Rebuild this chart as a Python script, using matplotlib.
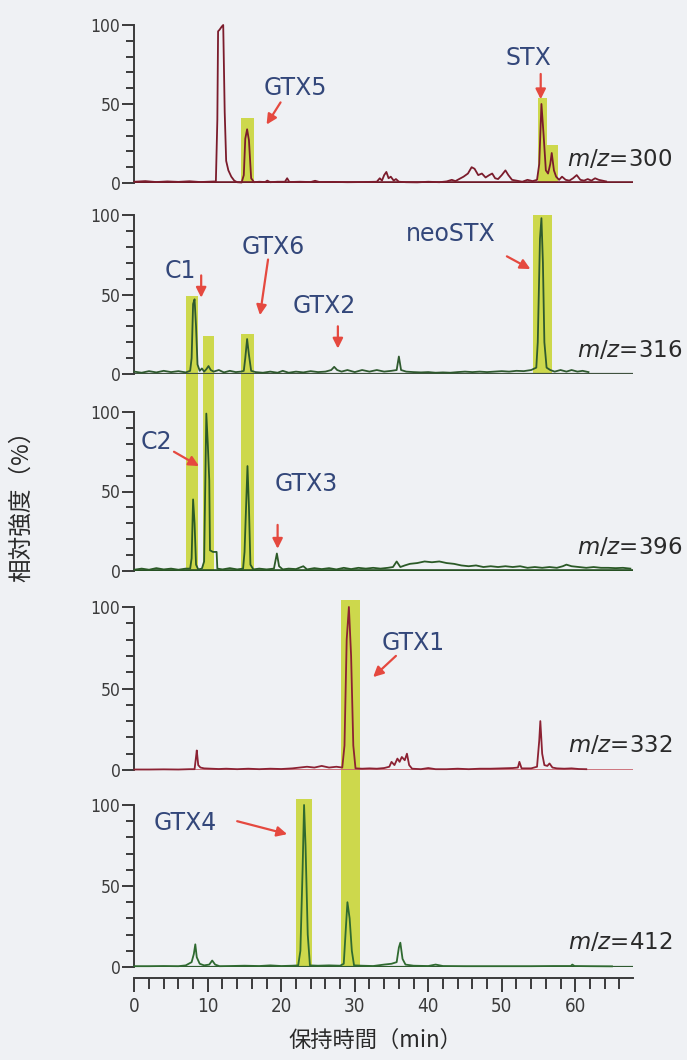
import numpy as np
import matplotlib
matplotlib.use("Agg")
import matplotlib.pyplot as plt
from matplotlib.patches import Rectangle
from matplotlib.ticker import MultipleLocator

# retention time (min), relative intensity (%)
mz300 = [(0, 0.8), (1.5, 1.2), (3, 0.6), (4.5, 1.0), (6, 0.7), (7.5, 1.1), (9, 0.6),
         (10.5, 0.9), (11.1, 1.0), (11.3, 40), (11.4, 96), (11.6, 97), (11.9, 99),
         (12.1, 100), (12.3, 45), (12.5, 14), (12.8, 8), (13.2, 4), (13.6, 1.5),
         (14.0, 0.5), (14.6, 0.3), (14.9, 5), (15.1, 28), (15.35, 34), (15.6, 27),
         (15.9, 3), (16.3, 0.5), (17.0, 0.8), (17.8, 0.6), (18.1, 1.5), (18.5, 0.5),
         (19.5, 0.8), (20.5, 0.8), (20.8, 3), (21.1, 0.6), (22.5, 0.8), (24.0, 0.6),
         (24.6, 1.4), (25.2, 0.6), (27, 0.7), (29, 0.5), (31, 0.6), (33, 0.8),
         (33.4, 3), (33.7, 1.5), (34.0, 5), (34.3, 7), (34.6, 3), (34.9, 4),
         (35.3, 1.5), (35.6, 2.5), (36.0, 0.8), (37, 0.5), (38.5, 0.4), (40, 0.8),
         (41.5, 0.5), (42.5, 1.0), (43.2, 2), (43.7, 1.2), (44.2, 2.5), (44.8, 4),
         (45.4, 6), (45.9, 10), (46.3, 9), (46.8, 5), (47.3, 6), (47.8, 3.5),
         (48.3, 5), (48.7, 6), (49.1, 3), (49.5, 2.5), (50.0, 5), (50.5, 8),
         (50.9, 5), (51.4, 2), (52.0, 1.5), (52.8, 0.8), (53.5, 2), (54.2, 1.2),
         (54.8, 2), (55.1, 12), (55.4, 50), (55.7, 30), (56.0, 8), (56.3, 6),
         (56.6, 12), (56.8, 19), (57.1, 8), (57.4, 4), (57.8, 2), (58.2, 4),
         (58.7, 2), (59.2, 1.5), (59.7, 3), (60.2, 5), (60.7, 2), (61.2, 1.5),
         (61.7, 2.5), (62.2, 1.5), (62.7, 3), (63.2, 2), (63.7, 1.5), (64.2, 1.0)]

mz316 = [(0, 1.5), (1, 0.8), (2, 1.8), (3, 1.0), (4, 2.0), (5, 1.2), (6, 1.8), (7, 1.0),
         (7.6, 2.0), (7.8, 10), (8.0, 44), (8.2, 47), (8.4, 30), (8.6, 6), (8.9, 2.0),
         (9.2, 3.5), (9.5, 1.5), (9.8, 3), (10.1, 5), (10.4, 2.5), (10.8, 1.5),
         (11.5, 2.5), (12.2, 1.0), (13, 2.0), (13.8, 1.2), (14.5, 1.5), (14.9, 2),
         (15.1, 10), (15.35, 22), (15.6, 12), (15.9, 2), (16.5, 1.2), (17.5, 0.8),
         (18.5, 1.5), (19.5, 0.8), (20.2, 2.0), (21, 0.8), (22, 1.5), (23, 1.0),
         (24, 1.8), (25, 1.2), (26, 1.5), (26.8, 2.5), (27.2, 4.5), (27.6, 2.5),
         (28.2, 1.5), (29, 2.5), (30, 1.2), (31, 2.5), (32, 1.5), (33, 2.5),
         (34, 1.5), (35, 2.0), (35.7, 2.5), (36.0, 11), (36.3, 2.5), (37, 1.5),
         (38, 1.2), (39, 1.0), (40, 1.2), (41, 0.8), (42, 1.0), (43, 0.8), (44, 1.2),
         (45, 1.5), (46, 1.2), (47, 1.5), (48, 1.2), (49, 1.5), (50, 1.8), (51, 1.5),
         (52, 2), (53, 1.8), (54, 2.5), (54.7, 4), (54.9, 20), (55.2, 85), (55.4, 98),
         (55.6, 70), (55.8, 20), (56.1, 4), (56.6, 2.5), (57.2, 1.5), (58, 2.5),
         (58.8, 1.5), (59.5, 2.5), (60.3, 1.5), (61, 2.0), (61.8, 1.2)]

mz396 = [(0, 0.8), (1, 1.5), (2, 0.8), (3, 1.8), (4, 1.0), (5, 1.5), (6, 0.8), (7, 1.5),
         (7.6, 1.5), (7.8, 8), (8.0, 45), (8.2, 30), (8.4, 4), (8.7, 1.0), (9.2, 1.5),
         (9.5, 6), (9.8, 99), (10.0, 80), (10.2, 57), (10.3, 13), (10.7, 12),
         (11.2, 12), (11.3, 1.5), (12, 1.0), (13, 1.8), (14, 1.0), (14.8, 1.5),
         (15.0, 12), (15.4, 66), (15.6, 40), (15.8, 4), (16.2, 1.0), (17, 1.5),
         (18, 1.0), (19.0, 1.5), (19.4, 11), (19.7, 3), (20.2, 1.0), (21, 1.5),
         (22, 1.2), (23, 3), (23.5, 1.0), (24.5, 1.8), (25.5, 1.2), (26.5, 1.8),
         (27.5, 1.0), (28.5, 2.0), (29.5, 1.2), (30.5, 2.0), (31.5, 1.5), (32.5, 2.0),
         (33.5, 1.5), (34.5, 2.0), (35.2, 2.5), (35.7, 6), (36.2, 2.5), (36.8, 3.5),
         (37.5, 4.5), (38.5, 5), (39.5, 6), (40.5, 5.5), (41.5, 6), (42.5, 5),
         (43.5, 4.5), (44.5, 3.5), (45.5, 3), (46.5, 3.5), (47.5, 2.5), (48.5, 3),
         (49.5, 2.5), (50.5, 3), (51.5, 2.5), (52.5, 3), (53.5, 2), (54.5, 2.5),
         (55.5, 2), (56.5, 2.5), (57.5, 2), (58.3, 3), (58.8, 4), (59.5, 3),
         (60.5, 2.5), (61.5, 2.0), (62.5, 2.5), (63.5, 2.0), (64.5, 2.0), (65.5, 1.8),
         (66.5, 2.0), (67.5, 1.5)]

mz332 = [(0, 0.3), (2, 0.3), (4, 0.4), (6, 0.3), (7.5, 0.5), (8.2, 0.5), (8.4, 8),
         (8.5, 12), (8.7, 3), (9.0, 1.5), (9.5, 1.0), (10.5, 0.8), (11.5, 0.6),
         (12.5, 0.8), (14, 0.5), (15.5, 0.8), (17, 0.5), (18.5, 0.8), (20, 0.6),
         (21.5, 1.0), (22.5, 1.5), (23.5, 2.0), (24.5, 1.5), (25.5, 2.5), (26.5, 1.5),
         (27.5, 2.0), (28.3, 1.5), (28.6, 15), (28.9, 80), (29.2, 100), (29.5, 70),
         (29.8, 15), (30.1, 1.0), (31, 0.8), (32, 1.0), (33, 0.8), (34, 1.2),
         (34.7, 2), (35.0, 5), (35.4, 3), (35.8, 7), (36.1, 5), (36.4, 8), (36.8, 6),
         (37.1, 10), (37.4, 3), (37.8, 0.8), (39, 0.5), (40, 1.2), (41, 0.5),
         (42.5, 0.5), (44, 0.8), (45.5, 0.5), (47, 0.8), (48.5, 0.8), (50, 1.0),
         (51.5, 1.2), (52.2, 1.5), (52.4, 5), (52.7, 1.0), (54, 1.0), (54.8, 2),
         (55.1, 18), (55.25, 30), (55.5, 10), (55.8, 3), (56.2, 2.5), (56.5, 4),
         (56.9, 1.5), (57.5, 1.0), (58.5, 0.8), (59.5, 1.0), (60.5, 0.6), (61.5, 0.5)]

mz412 = [(0, 0.5), (2, 0.5), (4, 0.6), (6, 0.5), (7.0, 1.0), (7.4, 2), (7.8, 3),
         (8.1, 8), (8.3, 14), (8.5, 6), (8.9, 2), (9.5, 1.0), (10.2, 1.5), (10.6, 4),
         (11.0, 1.5), (11.6, 0.5), (13, 0.6), (15, 0.8), (17, 0.6), (18.5, 1.0),
         (20, 0.6), (21.5, 0.8), (22.3, 1.0), (22.6, 10), (22.9, 60), (23.1, 100),
         (23.3, 75), (23.6, 20), (23.9, 1.0), (25, 0.8), (26.5, 1.0), (28, 0.8),
         (28.5, 2), (28.8, 25), (29.0, 40), (29.3, 30), (29.6, 10), (29.9, 1.0),
         (31, 0.8), (32.5, 0.6), (34, 1.5), (35, 2), (35.7, 3), (36.0, 12),
         (36.2, 15), (36.5, 5), (36.9, 1.5), (38, 0.8), (40, 0.6), (41, 1.5),
         (42, 0.6), (45, 0.5), (48, 0.5), (51, 0.5), (54, 0.5), (57, 0.6),
         (59.4, 0.6), (59.6, 1.5), (59.9, 0.6), (62, 0.5), (65, 0.4)]

traces = [mz300, mz316, mz396, mz332, mz412]
mz_labels = ["300", "316", "396", "332", "412"]

# highlighted windows: start, end (min), lowest panel, highest panel, top (%)
windows = [(14.5, 16.3, 0, 0, 41), (55.0, 56.1, 0, 0, 54), (56.1, 57.6, 0, 0, 24),
           (7.1, 8.7, 2, 1, 49), (9.4, 10.9, 2, 1, 24), (14.5, 16.3, 2, 1, 25),
           (54.2, 56.8, 1, 1, 100), (28.1, 30.7, 4, 3, 104), (22.0, 24.2, 4, 4, 104)]

# compound name, panel, text position, arrow tail, arrow head
compounds = [("GTX5", 0, (21.9, 60), (19.9, 51), (18.0, 37)),
             ("STX", 0, (53.6, 79), (55.3, 69), (55.3, 53)),
             ("C1", 1, (6.2, 65), (9.1, 62), (9.1, 48)),
             ("GTX6", 1, (18.9, 80), (18.2, 72), (17.1, 37)),
             ("GTX2", 1, (25.8, 43), (27.7, 30), (27.7, 16)),
             ("neoSTX", 1, (43.0, 88), (50.7, 74), (53.9, 66)),
             ("C2", 2, (3.0, 81), (5.4, 75), (8.8, 66)),
             ("GTX3", 2, (23.4, 55), (19.5, 29), (19.5, 14)),
             ("GTX1", 3, (38.0, 78), (35.6, 70), (32.5, 57)),
             ("GTX4", 4, (6.9, 89), (14.0, 90), (20.8, 82))]

x_ticks = [0, 10, 20, 30, 40, 50, 60]

BG = "#eff1f4"
AXIS_C = "#3b3b3b"
YELLOW = "#cdd84c"
ARROW_C = "#e5493f"
TEXT_C = "#33477a"
LINE_C = ["#7b1c2c", "#2f5a2f", "#2b5a27", "#8c2233", "#2f6a30"]
BASE_C = ["#6e1a28", "#3f523f", "#254f22", "#c8606a", "#2f5a30"]
BASE_LW = [2.6, 1.6, 2.6, 1.2, 1.6]

W, H = 687, 1060
X0_PX, X1_PX = 134.3, 633.3
XMAX = 67.9
PANEL_PX = [(25, 183), (215, 374), (412, 571), (607, 770), (805, 967)]
XAXIS_PX = 978


def add_panel(fig, top, base):
    ax = fig.add_axes([X0_PX / W, 1 - base / H, (X1_PX - X0_PX) / W, (base - top) / H])
    ax.set_xlim(0, XMAX)
    ax.set_ylim(0, 100)
    ax.patch.set_visible(False)
    for side in ("top", "right", "bottom"):
        ax.spines[side].set_visible(False)
    ax.spines["left"].set_color(AXIS_C)
    ax.spines["left"].set_linewidth(1.4)
    ax.set_xticks([])
    ax.set_yticks([0, 50, 100])
    ax.yaxis.set_minor_locator(MultipleLocator(10))
    ax.tick_params(axis="y", which="major", length=9, width=1.4, pad=1,
                   labelsize=12.5, colors=AXIS_C)
    ax.tick_params(axis="y", which="minor", length=6, width=1.4, colors=AXIS_C)
    for lbl in ax.get_yticklabels():
        lbl.set_fontstretch("condensed")
    return ax


def main():
    fig = plt.figure(figsize=(W / 100, H / 100), dpi=100, facecolor=BG)
    axes = [add_panel(fig, top, base) for top, base in PANEL_PX]

    for i, ax in enumerate(axes):
        t, y = np.array(traces[i]).T
        ax.axhline(0, color=BASE_C[i], lw=BASE_LW[i], zorder=2)
        ax.plot(t, y, color=LINE_C[i], lw=1.3, zorder=3, clip_on=False)
        ax.text(74.6 if i in (1, 2) else 73.2, 15, r"$m/z$=" + mz_labels[i],
                ha="right", va="center", fontsize=16.5, color="#2a2a2a")

    to_fig = fig.transFigure.inverted()
    for x0, x1, lo, hi, top in windows:
        p0 = to_fig.transform(axes[lo].transData.transform((x0, 0)))
        p1 = to_fig.transform(axes[hi].transData.transform((x1, top)))
        fig.add_artist(Rectangle(p0, p1[0] - p0[0], p1[1] - p0[1],
                                 transform=fig.transFigure, facecolor=YELLOW,
                                 edgecolor="none", zorder=-1))

    for name, i, txt, tail, head in compounds:
        ax = axes[i]
        ax.text(txt[0], txt[1], name, ha="center", va="center",
                fontsize=17, color=TEXT_C)
        ax.annotate("", xy=head, xytext=tail, annotation_clip=False,
                    arrowprops=dict(arrowstyle="-|>", color=ARROW_C, lw=1.6,
                                    mutation_scale=15, shrinkA=0, shrinkB=0))

    ax_x = fig.add_axes([X0_PX / W, 1 - XAXIS_PX / H, (X1_PX - X0_PX) / W, 0.0001])
    ax_x.patch.set_visible(False)
    for side in ("top", "right", "left"):
        ax_x.spines[side].set_visible(False)
    ax_x.spines["bottom"].set_color(AXIS_C)
    ax_x.spines["bottom"].set_linewidth(1.4)
    ax_x.set_xlim(0, XMAX)
    ax_x.set_yticks([])
    ax_x.set_xticks(x_ticks)
    ax_x.xaxis.set_minor_locator(MultipleLocator(2))
    ax_x.tick_params(axis="x", which="major", length=10, width=1.4, pad=4,
                     labelsize=13.5, colors=AXIS_C)
    ax_x.tick_params(axis="x", which="minor", length=8, width=1.4, colors=AXIS_C)
    for lbl in ax_x.get_xticklabels():
        lbl.set_fontstretch("condensed")

    cjk = ["Noto Sans CJK JP", "DejaVu Sans"]
    fig.text(375 / W, 1 - 1040 / H, "保持時間（min）", ha="center", va="center",
             fontsize=16, family=cjk, color="#2a2a2a")
    fig.text(22 / W, 1 - 500 / H, "相対強度（%）", ha="center", va="center",
             rotation=90, fontsize=17, family=cjk, color="#2a2a2a")

    fig.savefig("out.png", dpi=100, facecolor=BG)
    plt.close(fig)


if __name__ == "__main__":
    main()
